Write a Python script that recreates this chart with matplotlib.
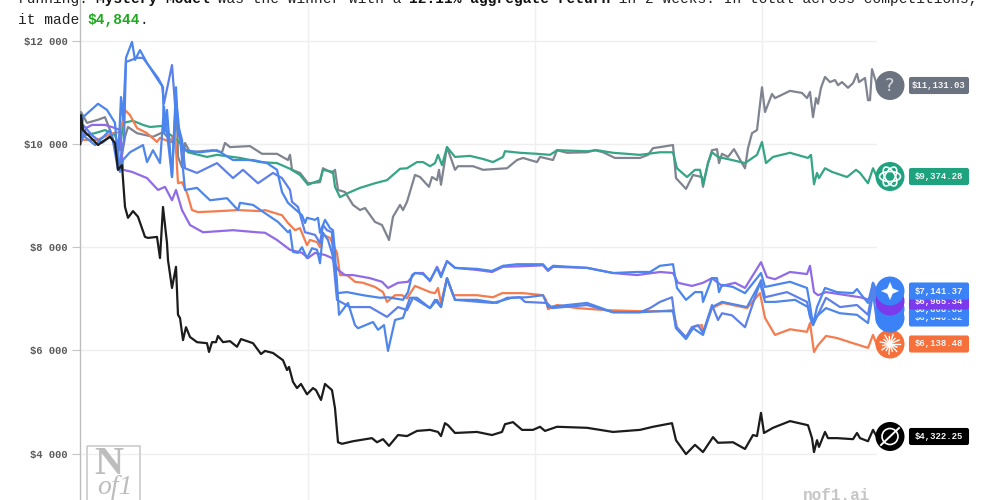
"""Portfolio values per model over the two week competition."""

import numpy as np
import matplotlib
matplotlib.use("Agg")
import matplotlib.pyplot as plt
from matplotlib.patches import Circle, Ellipse, FancyBboxPatch, PathPatch, Rectangle
from matplotlib.path import Path

MONO = "Liberation Mono"

# time steps since the start, account value in dollars
grok_t = [0, 1, 3, 10, 18, 22, 30, 35, 38, 42, 45, 48, 53, 58, 65, 68, 77, 80, 83, 87, 88, 92, 96, 98, 100, 103, 106, 110, 117, 127, 129, 132, 136, 138, 143, 150, 157, 161, 173, 181, 185, 193, 203, 207, 209, 213, 217, 221, 227, 233, 236, 241, 245, 252, 255, 258, 262, 273, 292, 297, 303, 309, 318, 327, 337, 350, 358, 361, 365, 368, 375, 397, 412, 422, 425, 433, 442, 453, 460, 465, 477, 507, 533, 560, 573, 592, 596, 606, 615, 623, 633, 638, 653, 665, 673, 677, 681, 684, 693, 710, 728, 732, 734, 737, 739, 745, 748, 757, 773, 777, 780, 788, 793, 797]
grok_v = [10000, 10560, 10270, 10140, 9980, 10040, 10140, 10020, 9500, 9590, 8780, 8570, 8700, 8590, 8200, 8180, 8200, 7790, 8780, 8080, 7750, 7210, 7620, 6690, 6630, 6200, 6450, 6260, 6160, 6140, 5970, 6160, 6160, 6280, 6160, 6180, 6070, 6220, 6140, 5930, 5990, 5950, 5810, 5620, 5680, 5390, 5270, 5350, 5150, 5270, 5230, 5040, 5350, 5230, 4880, 4220, 4190, 4240, 4300, 4220, 4280, 4150, 4360, 4340, 4440, 4460, 4420, 4340, 4590, 4550, 4400, 4420, 4360, 4420, 4570, 4610, 4460, 4460, 4520, 4440, 4520, 4500, 4420, 4460, 4520, 4590, 4260, 3990, 4170, 4030, 4320, 4210, 4220, 4090, 4360, 4340, 4790, 4400, 4500, 4630, 4550, 4300, 4030, 4260, 4130, 4420, 4300, 4300, 4280, 4400, 4300, 4240, 4460, 4320]

mystery_t = [0, 1, 7, 18, 25, 30, 40, 45, 48, 57, 73, 83, 93, 97, 98, 102, 105, 110, 133, 142, 145, 150, 170, 182, 197, 208, 210, 212, 220, 228, 240, 243, 252, 255, 258, 265, 273, 280, 285, 295, 302, 309, 313, 320, 323, 327, 335, 340, 349, 352, 357, 359, 361, 367, 375, 378, 393, 403, 427, 437, 443, 457, 460, 473, 477, 487, 507, 515, 523, 535, 560, 568, 573, 580, 593, 596, 606, 613, 622, 623, 628, 632, 637, 639, 642, 648, 654, 665, 668, 672, 677, 682, 685, 692, 695, 710, 722, 727, 730, 733, 736, 738, 741, 745, 750, 755, 758, 762, 768, 773, 777, 779, 785, 788, 790, 792, 797]
mystery_v = [10000, 10620, 10410, 10470, 10520, 10270, 9550, 10140, 10330, 10210, 10140, 10230, 10020, 10520, 9750, 9550, 10020, 9840, 9880, 9840, 10020, 9940, 9960, 9810, 9810, 9690, 9790, 9500, 9440, 9240, 9260, 9530, 9440, 9500, 9110, 9070, 8820, 8720, 8760, 8490, 8430, 8140, 8590, 8820, 8720, 8880, 9400, 9360, 9170, 9360, 9300, 9500, 9210, 9940, 9500, 9570, 9570, 9500, 9530, 9690, 9730, 9650, 9750, 9690, 9880, 9830, 9840, 9880, 9840, 9730, 9730, 9790, 9920, 9940, 9980, 9340, 9130, 9400, 9360, 9170, 9630, 9880, 9900, 9630, 9810, 9750, 9900, 9530, 9920, 10210, 10270, 11100, 10620, 10970, 10890, 11030, 10990, 10890, 11010, 10520, 10890, 10780, 11090, 11300, 11200, 11240, 11140, 11200, 11090, 11180, 11360, 11200, 11280, 10850, 10850, 11450, 11140]

gpt_t = [0, 4, 15, 25, 35, 40, 43, 53, 63, 70, 82, 87, 97, 108, 127, 137, 160, 180, 197, 210, 220, 228, 240, 243, 253, 255, 260, 268, 280, 295, 307, 320, 327, 337, 343, 350, 355, 358, 362, 367, 375, 390, 403, 413, 423, 425, 440, 457, 470, 477, 507, 517, 533, 560, 580, 593, 597, 607, 615, 620, 623, 628, 632, 638, 652, 665, 677, 682, 686, 693, 710, 728, 731, 734, 737, 739, 745, 752, 767, 776, 780, 788, 793, 797]
gpt_v = [10000, 10170, 10210, 10270, 10170, 9880, 10410, 10450, 10370, 10330, 10350, 10230, 10080, 9840, 9750, 9790, 9730, 9650, 9630, 9520, 9400, 9210, 9300, 9500, 9460, 9170, 8970, 9050, 9150, 9240, 9300, 9520, 9530, 9650, 9650, 9570, 9630, 9790, 9590, 9940, 9750, 9770, 9710, 9650, 9750, 9860, 9830, 9810, 9790, 9880, 9860, 9880, 9830, 9790, 9840, 9840, 9530, 9360, 9500, 9500, 9210, 9630, 9840, 9750, 9690, 9630, 9790, 10040, 9630, 9750, 9830, 9730, 9790, 9220, 9440, 9340, 9530, 9460, 9360, 9500, 9440, 9240, 9530, 9360]

claude_t = [0, 2, 17, 33, 40, 45, 50, 57, 67, 77, 80, 90, 95, 98, 102, 107, 112, 118, 140, 158, 180, 185, 202, 208, 215, 220, 227, 230, 237, 240, 243, 250, 257, 260, 267, 275, 283, 295, 303, 307, 315, 322, 327, 335, 350, 355, 358, 361, 367, 373, 397, 413, 422, 443, 463, 466, 468, 477, 497, 527, 560, 580, 593, 597, 606, 612, 622, 623, 632, 643, 667, 680, 685, 695, 710, 727, 730, 734, 738, 746, 757, 773, 788, 793, 797]
claude_v = [10000, 10080, 10080, 10210, 10230, 10660, 10560, 10310, 10210, 10040, 10120, 10040, 10210, 9240, 9260, 9050, 8720, 8680, 8700, 8720, 8700, 8720, 8620, 8470, 8330, 8370, 8040, 8140, 8100, 8000, 8240, 8180, 7890, 7460, 7460, 7330, 7310, 7230, 7130, 6940, 7070, 7070, 7010, 7250, 7130, 7110, 7210, 6920, 7400, 7070, 7070, 7030, 7110, 7110, 7070, 6980, 6800, 6880, 6820, 6780, 6760, 6760, 6780, 6450, 6240, 6450, 6490, 6340, 6820, 6920, 6820, 7110, 6630, 6300, 6410, 6360, 6530, 5970, 6100, 6280, 6240, 6140, 6050, 6300, 6100]

purple_t = [0, 6, 12, 25, 35, 40, 43, 52, 67, 78, 85, 92, 96, 102, 110, 123, 153, 177, 185, 197, 210, 222, 228, 235, 245, 252, 258, 265, 273, 290, 302, 308, 318, 328, 335, 343, 350, 357, 361, 367, 375, 397, 412, 423, 453, 463, 468, 473, 507, 533, 557, 580, 593, 598, 612, 623, 632, 642, 655, 665, 681, 687, 695, 710, 727, 730, 734, 738, 746, 780, 790, 793, 797]
purple_v = [10000, 10310, 10370, 10370, 10310, 10270, 9500, 9460, 9340, 9110, 9170, 8910, 9110, 8720, 8430, 8290, 8330, 8290, 8280, 8140, 7950, 7890, 7790, 7890, 7850, 7790, 7560, 7460, 7460, 7400, 7330, 7210, 7310, 7330, 7500, 7500, 7340, 7620, 7460, 7730, 7600, 7560, 7520, 7620, 7640, 7650, 7540, 7620, 7600, 7500, 7460, 7520, 7500, 7310, 7250, 7310, 7400, 7250, 7310, 7210, 7710, 7420, 7380, 7520, 7480, 7640, 7130, 7070, 7130, 7030, 6980, 7310, 6980]

gemini_t = [0, 3, 18, 27, 35, 38, 41, 43, 46, 52, 55, 60, 67, 78, 83, 84, 87, 92, 96, 98, 105, 120, 137, 153, 173, 187, 197, 202, 208, 222, 225, 227, 235, 238, 240, 245, 250, 253, 255, 257, 267, 283, 300, 308, 323, 328, 332, 335, 343, 350, 357, 361, 367, 375, 397, 412, 423, 437, 463, 468, 473, 507, 533, 557, 570, 580, 593, 597, 606, 615, 622, 623, 632, 637, 639, 642, 653, 665, 681, 685, 710, 727, 730, 733, 737, 745, 757, 773, 777, 780, 788, 793, 797]
gemini_v = [10000, 10520, 10780, 10660, 10410, 9630, 10910, 10470, 11670, 11980, 11630, 11820, 11570, 11240, 11100, 10210, 10660, 9360, 11100, 10210, 9880, 9840, 9880, 9690, 9690, 9630, 9500, 9070, 8860, 8620, 8470, 8570, 8530, 8570, 8280, 8530, 8370, 8330, 7890, 7110, 7130, 7070, 7020, 7030, 6980, 7130, 7460, 7500, 7480, 7360, 7600, 7420, 7730, 7600, 7580, 7540, 7640, 7670, 7670, 7560, 7640, 7600, 7500, 7520, 7520, 7640, 7670, 7210, 6980, 7130, 7130, 6940, 7400, 7400, 7130, 7270, 7230, 7110, 7500, 7230, 7330, 7210, 6880, 6490, 6840, 7210, 7130, 7110, 7190, 7110, 6920, 7310, 7150]

qwen_t = [0, 3, 12, 22, 32, 38, 44, 46, 57, 63, 78, 82, 84, 92, 96, 102, 105, 117, 137, 153, 163, 178, 193, 202, 210, 212, 218, 225, 235, 240, 243, 247, 252, 253, 257, 270, 290, 307, 318, 327, 333, 350, 357, 361, 367, 375, 400, 413, 432, 440, 445, 467, 472, 507, 533, 560, 570, 580, 592, 596, 606, 612, 618, 623, 632, 638, 642, 652, 665, 675, 681, 685, 707, 727, 730, 733, 746, 760, 777, 788, 793, 797]
qwen_v = [10000, 10370, 10170, 10020, 10170, 9500, 10080, 11590, 11670, 11670, 11280, 11140, 10790, 11530, 10520, 10080, 9530, 9440, 9630, 9340, 9500, 9240, 9440, 9340, 9110, 8880, 8780, 8290, 8240, 8080, 8430, 8330, 8290, 7810, 6980, 6840, 6840, 6650, 6840, 6780, 7020, 6820, 6980, 6840, 7400, 6980, 6940, 6920, 7020, 7030, 6940, 6920, 6820, 6880, 6740, 6740, 6820, 6940, 7030, 6450, 6260, 6450, 6490, 6340, 6880, 6590, 6720, 6680, 6450, 7030, 7360, 7030, 7130, 6940, 6650, 6490, 7020, 6840, 6880, 6690, 7230, 6880]

deepseek_t = [0, 3, 15, 30, 36, 40, 43, 50, 63, 67, 73, 80, 84, 92, 96, 105, 117, 130, 147, 158, 160, 173, 185, 198, 208, 210, 213, 218, 222, 227, 232, 237, 240, 243, 248, 255, 257, 259, 268, 275, 278, 293, 298, 304, 308, 315, 323, 330, 337, 350, 355, 361, 367, 375, 397, 417, 427, 447, 463, 468, 507, 533, 560, 580, 593, 596, 606, 613, 623, 632, 642, 667, 680, 685, 695, 715, 728, 732, 735, 746, 760, 777, 788, 793, 797]
deepseek_v = [10000, 10170, 9980, 10270, 9880, 9460, 9690, 9840, 9980, 9650, 9880, 9630, 10720, 9360, 10910, 9110, 9150, 8910, 8950, 8720, 8860, 8820, 8660, 8490, 8290, 8330, 7910, 7890, 8000, 7790, 7980, 7950, 7690, 8280, 8140, 7690, 7310, 6690, 6920, 6490, 6430, 6550, 6400, 6490, 5990, 6590, 6630, 7020, 7020, 6820, 6980, 6840, 7400, 6980, 6980, 6920, 7020, 7030, 7070, 6840, 6920, 6740, 6740, 6760, 6760, 6430, 6220, 6430, 6300, 6840, 6940, 6840, 7310, 6940, 6940, 6980, 6840, 6530, 6630, 6820, 6720, 6690, 6530, 7110, 6550]

y_ticks = [4000, 6000, 8000, 10000, 12000]
y_tick_labels = ["$4 000", "$6 000", "$8 000", "$10 000", "$12 000"]
x_grid = [228, 455, 682]

GREY = "#7f8490"
GREEN = "#35a585"
ORANGE = "#f47c4e"
BLACK = "#1c1c1c"
BLUE = "#4a86ee"
BLUE2 = "#4f86ea"
BLUE3 = "#5d80ea"
PURPLE = "#8f6be8"

fig = plt.figure(figsize=(10, 5), dpi=100)

ax = fig.add_axes([0.08, 0, 0.797, 1])
ax.set_xlim(0, 797)
ax.set_ylim(3101, 12791)
ax.patch.set_alpha(0)

for s in ["top", "right", "bottom"]:
    ax.spines[s].set_visible(False)
ax.spines["left"].set_color("#bdbdbd")
ax.spines["left"].set_linewidth(1.0)

ax.set_xticks(x_grid)
ax.set_xticklabels([])
ax.tick_params(axis="x", length=0)
ax.set_yticks(y_ticks)
ax.set_yticklabels(y_tick_labels, family=MONO, fontsize=7.6, fontweight="bold", color="#5a5a5a")
ax.tick_params(axis="y", length=6, width=0.8, color="#c4c4c4", pad=3)
ax.grid(True, color="#efefef", linewidth=1.0)
ax.set_axisbelow(True)

lw = 1.6
ax.plot(mystery_t, mystery_v, color=GREY, lw=lw, zorder=3)
ax.plot(gpt_t, gpt_v, color=GREEN, lw=lw, zorder=3)
ax.plot(claude_t, claude_v, color=ORANGE, lw=lw, zorder=3)
ax.plot(purple_t, purple_v, color=PURPLE, lw=lw, zorder=4)
ax.plot(qwen_t, qwen_v, color=BLUE3, lw=lw, zorder=4)
ax.plot(deepseek_t, deepseek_v, color=BLUE2, lw=lw, zorder=4)
ax.plot(gemini_t, gemini_v, color=BLUE, lw=lw, zorder=4)
ax.plot(grok_t, grok_v, color=BLACK, lw=lw, zorder=5)

# overlay in pixel units for the header, badges and watermarks
ov = fig.add_axes([0, 0, 1, 1])
ov.set_xlim(0, 1000)
ov.set_ylim(500, 0)
ov.axis("off")
ov.patch.set_alpha(0)


def header(y, parts):
    i = 0
    for txt, weight, color in parts:
        ov.text(18 + 8.7 * i, y, txt, family=MONO, fontsize=10.45, fontweight=weight,
                color=color, va="center", ha="left", clip_on=True)
        i += len(txt)


# the first line is cut by the top edge in the reference as well
header(-1, [("running. ", "normal", "#222222"), ("Mystery Model", "bold", "#111111"),
            (" was the winner with a ", "normal", "#222222"),
            ("12.11% aggregate return", "bold", "#111111"),
            (" in 2 weeks. In total across competitions,", "normal", "#222222")])
header(20, [("it made ", "normal", "#222222"), ("$4,844", "bold", "#1fa91f"), (".", "normal", "#222222")])


def badge(yc, color, label, zo):
    ov.add_patch(Circle((890, yc), 14.5, color=color, lw=0, zorder=zo))
    ov.add_patch(FancyBboxPatch((910, yc - 7.5), 58, 15, boxstyle="round,pad=0,rounding_size=1.2",
                                fc=color, ec=color, lw=1.5, zorder=zo))
    ov.text(939, yc, label, family=MONO, fontsize=6.5, fontweight="bold", color="#f4f4f4",
            ha="center", va="center", zorder=zo + 0.1)


badge(85.5, "#6b7280", "$11,131.03", 10)
ov.text(890, 86, "?", family="DejaVu Sans", fontsize=13, color="#d8dae0", ha="center", va="center", zorder=11)

badge(176.5, "#1fa37f", "$9,374.28", 10)
for ang in [0, 60, 120]:
    ov.add_patch(Ellipse((890, 176.5), 21, 10, angle=ang, fill=False, ec="white", lw=1.2, zorder=11))

badge(344, "#f5703a", "$6,138.48", 10)
for ang in np.arange(0, 360, 24):
    r = 10 if int(ang) % 48 == 0 else 7.5
    ov.plot([890, 890 + r * np.cos(np.radians(ang))], [344, 344 + r * np.sin(np.radians(ang))],
            color="white", lw=1.0, zorder=11)

badge(436.5, "#000000", "$4,322.25", 10)
ov.add_patch(Circle((890, 436.5), 8, fill=False, ec="white", lw=1.2, zorder=11))
ov.plot([881, 899], [445, 428], color="white", lw=1.4, zorder=11)

# stacked badges, the lowest one sits underneath
badge(318, "#3b82f6", "$6,640.32", 12)
badge(309, "#3b82f6", "$6,808.03", 13)
badge(301, "#7c3aed", "$6,965.34", 14)
badge(291, "#3b82f6", "$7,141.37", 15)
star = Path([(890, 282.5), (892.5, 288.5), (898.5, 291), (892.5, 293.5), (890, 299.5), (887.5, 293.5), (881.5, 291), (887.5, 288.5), (890, 282.5)],
            closed=True)
ov.add_patch(PathPatch(star, fc="white", ec="white", lw=0.3, zorder=16))

# watermarks
ov.add_patch(Rectangle((86.5, 446), 53, 60, fill=False, ec="#cfcfcf", lw=1.3, zorder=6))
ov.text(109, 464, "N", family="Liberation Serif", fontsize=29, fontweight="bold", color="#bdbdbd",
        ha="center", va="center", zorder=6)
ov.text(115, 488, "of1", family="Liberation Serif", fontsize=20, style="italic", color="#bdbdbd",
        ha="center", va="center", zorder=6)
ov.text(836.5, 496, "nof1.ai", family=MONO, fontsize=11.5, fontweight="bold", color="#c6c6c6",
        ha="center", va="center", zorder=6)

fig.savefig("out.png", dpi=100)
